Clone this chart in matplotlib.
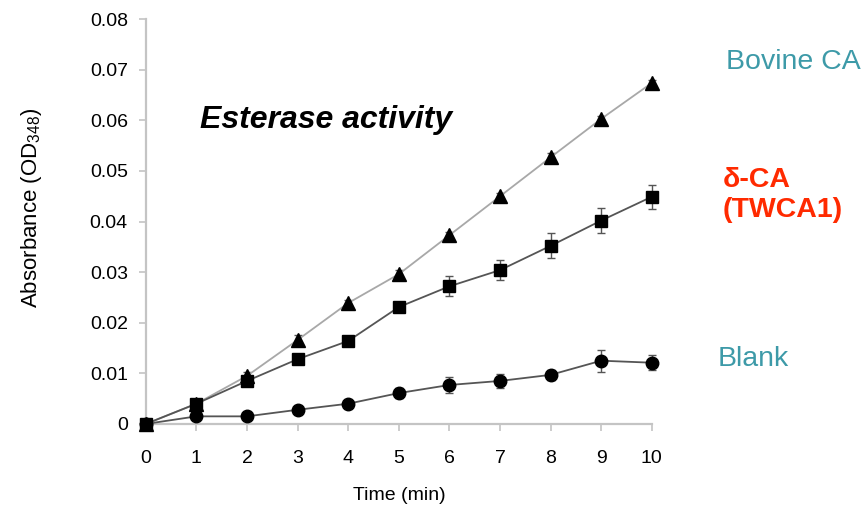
import matplotlib
matplotlib.use("Agg")
import matplotlib.pyplot as plt

plt.rcParams['font.family'] = ['Liberation Sans', 'DejaVu Sans']
plt.rcParams['mathtext.default'] = 'regular'

# data
time_min = [0, 1, 2, 3, 4, 5, 6, 7, 8, 9, 10]

bovine = [0, 0.0040, 0.0095, 0.0166, 0.0239, 0.0296, 0.0373, 0.0450, 0.0527, 0.0603, 0.0674]
bovine_err = [0.0003, 0.0005, 0.0008, 0.0010, 0.0005, 0.0008, 0.0006, 0.0006, 0.0008, 0.0006, 0.0006]

delta_ca = [0, 0.0040, 0.0085, 0.0128, 0.0164, 0.0231, 0.0272, 0.0304, 0.0352, 0.0402, 0.0449]
delta_err = [0.0003, 0.0005, 0.0006, 0.0006, 0.0010, 0.0008, 0.0020, 0.0020, 0.0025, 0.0025, 0.0024]

blank = [0, 0.0015, 0.0015, 0.0028, 0.0040, 0.0061, 0.0077, 0.0085, 0.0097, 0.0125, 0.0121]
blank_err = [0.0003, 0.0004, 0.0004, 0.0004, 0.0005, 0.0010, 0.0015, 0.0013, 0.0010, 0.0022, 0.0015]

teal = '#3d9aa8'
red = '#ff2a00'
axis_grey = '#c4c4c4'

fig = plt.figure(figsize=(8.68, 5.17), dpi=100)
ax = fig.add_axes([0.168, 0.180, 0.583, 0.783])

ax.errorbar(time_min, bovine, yerr=bovine_err, color='#a8a8a8', lw=1.3,
            marker='^', ms=10, mfc='black', mec='black',
            ecolor='#555555', elinewidth=1, capsize=3, zorder=3)
ax.errorbar(time_min, delta_ca, yerr=delta_err, color='#555555', lw=1.3,
            marker='s', ms=8, mfc='black', mec='black',
            ecolor='#555555', elinewidth=1, capsize=3, zorder=3)
ax.errorbar(time_min, blank, yerr=blank_err, color='#555555', lw=1.3,
            marker='o', ms=9, mfc='black', mec='black',
            ecolor='#555555', elinewidth=1, capsize=3, zorder=3)

ax.set_xlim(0, 10)
ax.set_ylim(0, 0.08)
ax.set_xticks(range(0, 11))
ax.set_yticks([0, 0.01, 0.02, 0.03, 0.04, 0.05, 0.06, 0.07, 0.08])
ax.set_yticklabels(['0', '0.01', '0.02', '0.03', '0.04', '0.05', '0.06', '0.07', '0.08'])

for side in ['top', 'right']:
    ax.spines[side].set_visible(False)
for side in ['left', 'bottom']:
    ax.spines[side].set_color(axis_grey)
    ax.spines[side].set_linewidth(1.6)
ax.tick_params(axis='both', colors=axis_grey, labelcolor='black', length=5, width=1.2, labelsize=14)
ax.tick_params(axis='x', pad=14)
ax.tick_params(axis='y', pad=8)

ax.set_xlabel('Time (min)', fontsize=14, labelpad=14)
ax.set_ylabel('Absorbance (OD$_{348}$)', fontsize=16)
ax.yaxis.set_label_coords(-0.202, 0.533)
for c in ax.get_children():
    c.set_clip_on(False)

ax.text(0.107, 0.751, 'Esterase activity', transform=ax.transAxes,
        fontsize=23, fontweight='bold', fontstyle='italic', va='center')
fig.text(0.836, 0.88, 'Bovine CA', color=teal, fontsize=20.5, va='center')
fig.text(0.833, 0.623, 'δ-CA\n(TWCA1)', color=red, fontsize=20.5, fontweight='bold',
         va='center', linespacing=1.2)
fig.text(0.827, 0.305, 'Blank', color=teal, fontsize=20.5, va='center')

fig.savefig('out.png', dpi=100)
